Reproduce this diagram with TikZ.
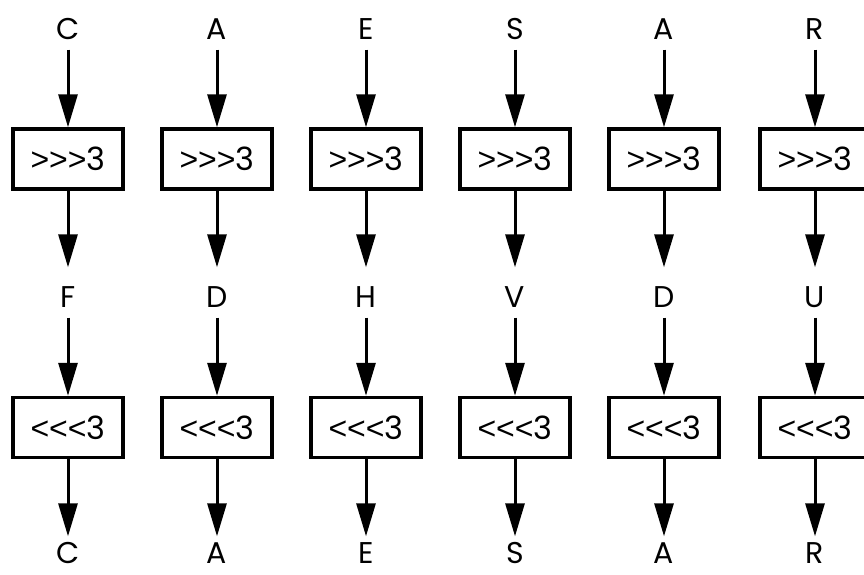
\documentclass[tikz,border=0pt]{standalone}
\usepackage{fontspec}
\setmainfont{Poppins}
\newfontfamily\symfont{Liberation Sans}
\newcommand{\gtc}{{\symfont >}}
\newcommand{\ltc}{{\symfont <}}
\usetikzlibrary{arrows.meta}
\begin{document}
\begin{tikzpicture}[x=1pt,y=-1pt,
  lbl/.style={inner sep=0pt, font=\fontsize{30}{30}\selectfont, text height=21pt, text depth=0pt},
  opbox/.style={draw, line width=3.5pt, minimum width=110pt, minimum height=60pt, inner sep=0pt, font=\fontsize{32}{32}\selectfont},
  flow/.style={line width=3pt, -{Triangle[length=33pt,width=19pt]}}]
\useasboundingbox (0,0) rectangle (864,574);
\foreach \i/\x/\a/\b in {1/68/C/F, 2/217/A/D, 3/366/E/H, 4/515/S/V, 5/664/A/D, 6/815/R/U} {
  \node[lbl] (t\i) at (\x,29) {\a};
  \node[opbox] (e\i) at (\x,159) {\gtc\gtc\gtc 3};
  \node[lbl] (m\i) at (\x,297) {\b};
  \node[opbox] (d\i) at (\x,427.5) {\ltc\ltc\ltc 3};
  \node[lbl] (o\i) at (\x,553) {\a};
  \draw[flow, shorten <=10pt] (t\i.south) -- (e\i.north);
  \draw[flow, shorten >=19pt] (e\i.south) -- (m\i.north);
  \draw[flow, shorten <=10pt] (m\i.south) -- (d\i.north);
  \draw[flow, shorten >=6pt] (d\i.south) -- (o\i.north);
}
\end{tikzpicture}
\end{document}
